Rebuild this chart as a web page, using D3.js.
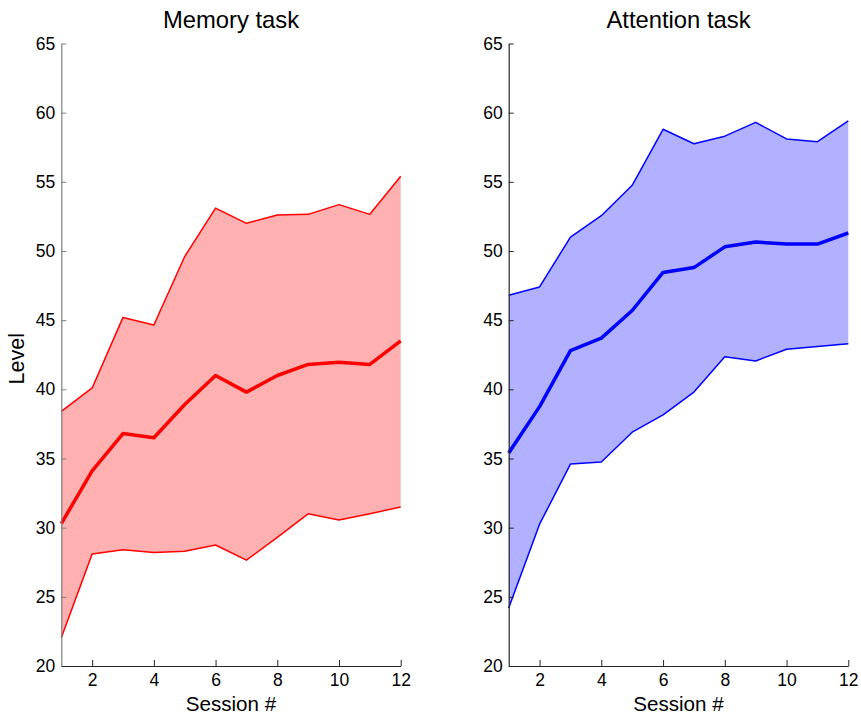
<!DOCTYPE html>
<html>
<head>
<meta charset="utf-8">
<script src="https://cdn.jsdelivr.net/npm/d3@7"></script>
<style>
  html, body { margin: 0; padding: 0; background: #fff; }
  svg { display: block; font-family: "Liberation Sans", Arial, Helvetica, sans-serif; }
</style>
</head>
<body>
<svg id="chart" width="861" height="718"></svg>
<script>
// Sessions 1..12
const sessions = [1, 2, 3, 4, 5, 6, 7, 8, 9, 10, 11, 12];

// Memory task: mean level and band limits
const memoryMean  = [30.3, 34.1, 36.8, 36.5, 38.9, 41.0, 39.8, 41.0, 41.8, 41.95, 41.8, 43.5];
const memoryUpper = [38.4, 40.1, 45.2, 44.65, 49.6, 53.1, 52.0, 52.6, 52.65, 53.35, 52.65, 55.4];
const memoryLower = [22.05, 28.1, 28.4, 28.2, 28.3, 28.75, 27.65, 29.3, 31.0, 30.55, 31.0, 31.5];

// Attention task: mean level and band limits
const attentionMean  = [35.4, 38.75, 42.8, 43.7, 45.7, 48.45, 48.8, 50.3, 50.65, 50.5, 50.5, 51.3];
const attentionUpper = [46.8, 47.4, 51.0, 52.55, 54.75, 58.8, 57.75, 58.3, 59.3, 58.1, 57.9, 59.4];
const attentionLower = [24.2, 30.25, 34.6, 34.75, 36.9, 38.15, 39.8, 42.35, 42.05, 42.9, 43.1, 43.3];

const xTicks = [2, 4, 6, 8, 10, 12];
const yTicks = [20, 25, 30, 35, 40, 45, 50, 55, 60, 65];

const svg = d3.select("#chart");

const panels = [
  { title: "Memory task", left: 61.3, right: 400.7, mean: memoryMean, upper: memoryUpper, lower: memoryLower,
    line: "#ff0000", fill: "#ffb1b1", yAxisColor: "#7f7f7f", showYLabel: true },
  { title: "Attention task", left: 508.7, right: 848.3, mean: attentionMean, upper: attentionUpper, lower: attentionLower,
    line: "#0000ff", fill: "#b1b1ff", yAxisColor: "#262626", showYLabel: false }
];

const plotTop = 43.5, plotBottom = 666;
const tickFont = 17.5;

panels.forEach(p => {
  const x = d3.scaleLinear().domain([1, 12]).range([p.left, p.right]);
  const y = d3.scaleLinear().domain([20, 65]).range([plotBottom, plotTop]);
  const g = svg.append("g");

  const rows = sessions.map((s, i) => ({ s, mean: p.mean[i], hi: p.upper[i], lo: p.lower[i] }));

  // shaded band
  g.append("path")
    .datum(rows)
    .attr("fill", p.fill)
    .attr("stroke", "none")
    .attr("d", d3.area().x(d => x(d.s)).y0(d => y(d.lo)).y1(d => y(d.hi)));

  // band edges
  ["hi", "lo"].forEach(k => {
    g.append("path")
      .datum(rows)
      .attr("fill", "none")
      .attr("stroke", p.line)
      .attr("stroke-width", 1.5)
      .attr("stroke-linejoin", "round")
      .attr("d", d3.line().x(d => x(d.s)).y(d => y(d[k])));
  });

  // mean line
  g.append("path")
    .datum(rows)
    .attr("fill", "none")
    .attr("stroke", p.line)
    .attr("stroke-width", 3.5)
    .attr("stroke-linejoin", "round")
    .attr("d", d3.line().x(d => x(d.s)).y(d => y(d.mean)));

  // y axis (ticks pointing inward)
  const yAxis = g.append("g")
    .attr("transform", `translate(${p.left},0)`)
    .call(d3.axisLeft(y).tickValues(yTicks).tickSize(-5).tickPadding(6).tickSizeOuter(0));
  yAxis.select(".domain").attr("stroke", p.yAxisColor).attr("stroke-width", 1.2);
  yAxis.selectAll(".tick line").attr("stroke", p.yAxisColor);
  yAxis.selectAll(".tick text").attr("fill", "#000").attr("font-size", tickFont).attr("font-family", "Liberation Sans, Arial, sans-serif");

  // x axis
  const xAxis = g.append("g")
    .attr("transform", `translate(0,${plotBottom})`)
    .call(d3.axisBottom(x).tickValues(xTicks).tickSize(-6).tickPadding(8).tickSizeOuter(0));
  xAxis.select(".domain").attr("stroke", "#262626").attr("stroke-width", 1.2);
  xAxis.selectAll(".tick line").attr("stroke", "#262626");
  xAxis.selectAll(".tick text").attr("fill", "#000").attr("font-size", tickFont).attr("font-family", "Liberation Sans, Arial, sans-serif");

  // title
  g.append("text")
    .attr("x", (p.left + p.right) / 2)
    .attr("y", 28.3)
    .attr("text-anchor", "middle")
    .attr("font-size", 23.8)
    .attr("fill", "#000")
    .text(p.title);

  // x label
  g.append("text")
    .attr("x", (p.left + p.right) / 2)
    .attr("y", 711)
    .attr("text-anchor", "middle")
    .attr("font-size", 20.6)
    .attr("fill", "#000")
    .text("Session #");

  if (p.showYLabel) {
    g.append("text")
      .attr("transform", `translate(24,${(plotTop + plotBottom) / 2 + 4}) rotate(-90)`)
      .attr("text-anchor", "middle")
      .attr("font-size", 21.5)
      .attr("fill", "#000")
      .text("Level");
  }
});
</script>
</body>
</html>
